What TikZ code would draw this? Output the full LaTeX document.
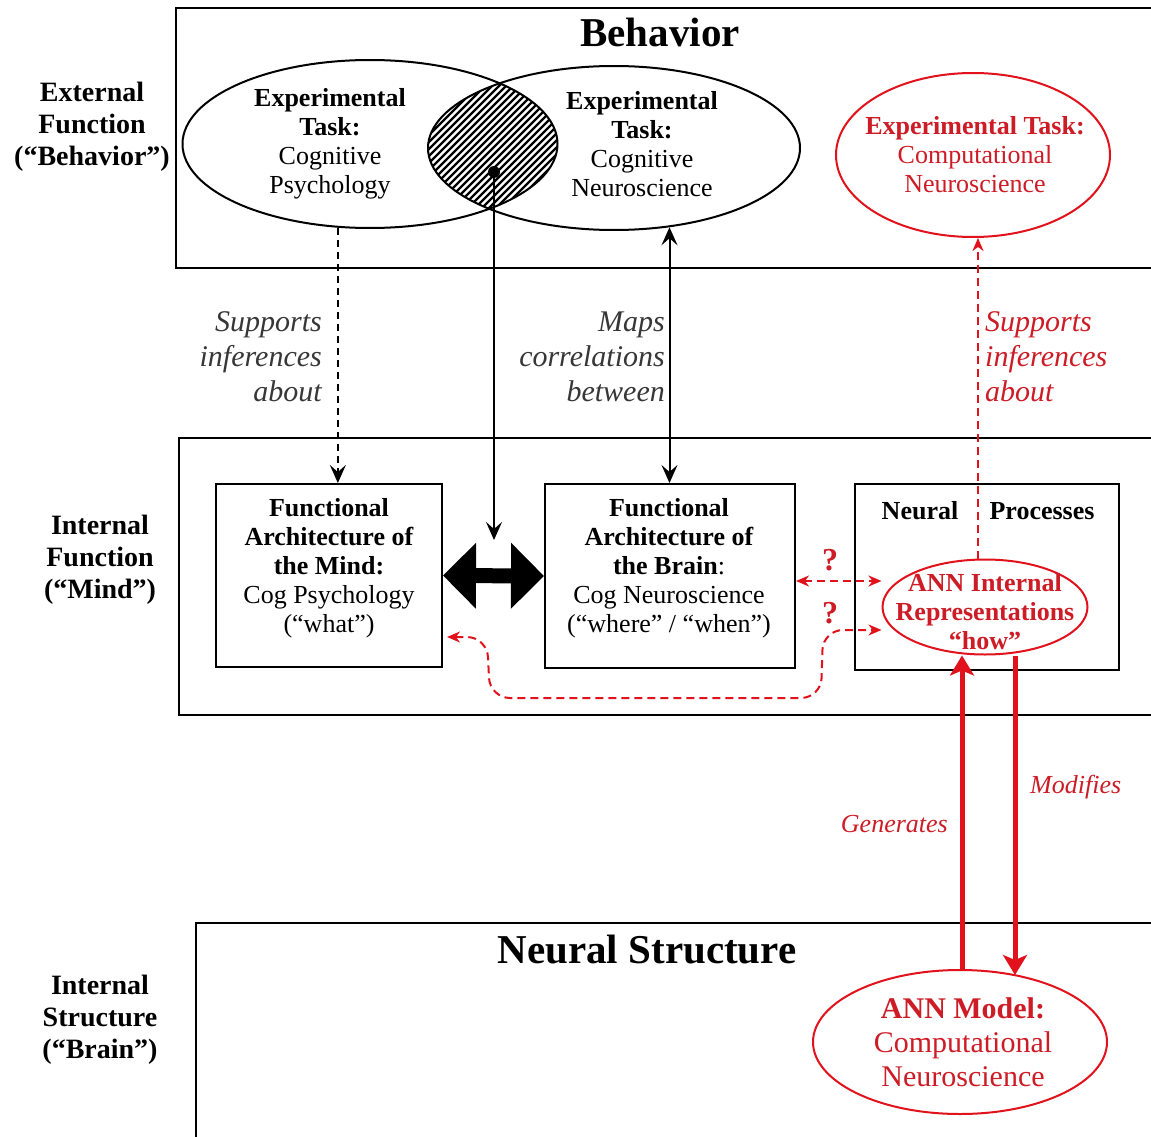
\documentclass[tikz,border=0pt]{standalone}
\usepackage{fontspec}
\setmainfont{Liberation Serif}
\usetikzlibrary{arrows.meta,shapes.geometric,calc}
\definecolor{annred}{RGB}{226,18,28}
\definecolor{redtxt}{RGB}{205,28,38}
\definecolor{lblgray}{RGB}{55,55,55}
\tikzset{
  btp/.tip={Stealth[length=18pt,width=16pt,inset=7pt]},
  rtp/.tip={Stealth[length=13pt,width=11pt,inset=4pt]},
  bigrtp/.tip={Stealth[length=20pt,width=24pt,inset=5pt]},
  hugetp/.tip={Triangle[length=33pt,width=64pt]},
}
\begin{document}
\begin{tikzpicture}[x=1pt,y=-1pt,
  frame/.style={line width=2pt},
  body/.style={font=\fontsize{26}{29}\selectfont, align=center, inner sep=0pt},
  bigbody/.style={font=\fontsize{30}{34}\selectfont, align=center, inner sep=0pt},
  side/.style={font=\fontsize{28}{32}\selectfont\bfseries, align=center, inner sep=0pt},
  title/.style={font=\fontsize{41}{44}\selectfont\bfseries, inner sep=0pt},
  lbl/.style={font=\fontsize{30}{35}\selectfont\itshape, text=lblgray, inner sep=0pt},
  rlbl/.style={font=\fontsize{30}{35}\selectfont\itshape, text=redtxt, inner sep=0pt},
  oval/.style={ellipse, draw, line width=2pt, inner sep=0pt},
  box/.style={rectangle, draw, line width=2pt, inner sep=0pt},
  blk/.style={line width=2pt},
  rdash/.style={annred, line width=2pt, dash pattern=on 8pt off 5pt},
  redbar/.style={annred, line width=5pt},
  qmark/.style={font=\fontsize{32}{34}\selectfont\bfseries, text=redtxt, inner sep=0pt},
]
\fill[white] (0,0) rectangle (1151,1137);
\useasboundingbox (0,0) rectangle (1151,1137);

% level frames
\draw[frame] (1151,8) -- (176,8) -- (176,268) -- (1151,268);
\draw[frame] (1151,438) -- (179,438) -- (179,715) -- (1151,715);
\draw[frame] (1151,923) -- (196,923) -- (196,1137);

% titles and side labels
\node[title] (tbeh) at (660,32) {Behavior};
\node[title] (tns) at (647,950) {Neural Structure};
\node[side] (sext) at (92,127) {External\\Function\\(“Behavior”)};
\node[side] (sint) at (100,560) {Internal\\Function\\(“Mind”)};
\node[side] (sstr) at (100,1020) {Internal\\Structure\\(“Brain”)};

% hatched overlap
\begin{scope}
  \clip (370,144) ellipse [x radius=187.5pt, y radius=84pt];
  \clip (614,148) ellipse [x radius=186pt, y radius=82pt];
  \foreach \i in {240,247,...,620} \draw[line width=2.2pt] (\i,240) -- ++(180,-180);
\end{scope}

% ellipses in behaviour level
\node[oval, minimum width=375pt, minimum height=168pt] (lell) at (370,144) {};
\node[oval, minimum width=372pt, minimum height=164pt] (rell) at (614,148) {};
\node[oval, draw=annred, minimum width=274pt, minimum height=164pt] (rtask) at (973,155) {};
\node[body] (tlell) at (330,144) {\textbf{Experimental}\\\textbf{Task:}\\Cognitive\\Psychology};
\node[body] (trell) at (642,144) {\textbf{Experimental}\\\textbf{Task:}\\Cognitive\\Neuroscience};
\node[body, text=redtxt] (trtask) at (975,155) {\textbf{Experimental Task:}\\Computational\\Neuroscience};

% mind level boxes
\node[box, minimum width=226pt, minimum height=183pt] (mind) at (329,575.5) {};
\node[box, minimum width=250pt, minimum height=184pt] (brain) at (670,576) {};
\node[box, minimum width=264pt, minimum height=186pt] (proc) at (987,577) {};
\node[body] (tmind) at (329,568) {\textbf{Functional}\\\textbf{Architecture of}\\\textbf{the Mind:}\\Cog Psychology\\(“what”)};
\node[body] (tbrain) at (669,568) {\textbf{Functional}\\\textbf{Architecture of}\\\textbf{the Brain}:\\Cog Neuroscience\\(“where” / “when”)};
\node[body, font=\fontsize{26}{29}\selectfont\bfseries] (tneural) at (920,511) {Neural};
\node[body, font=\fontsize{26}{29}\selectfont\bfseries] (tproc) at (1042,511) {Processes};
\node[oval, draw=annred, minimum width=205pt, minimum height=95pt] (aint) at (985,607) {};
\node[body, text=redtxt, font=\fontsize{26}{29}\selectfont\bfseries] (taint) at (985,612) {ANN Internal\\Representations\\“how”};
\node[qmark] (qa) at (830,560) {?};
\node[qmark] (qb) at (830,613) {?};

% structure level
\node[oval, draw=annred, minimum width=294pt, minimum height=144pt] (amodel) at (960,1042) {};
\node[bigbody, text=redtxt] (tamodel) at (963,1042) {\textbf{ANN Model:}\\Computational\\Neuroscience};

% helper coordinates
\coordinate (dotend) at (494,540);
\coordinate (q1) at (830,581);
\coordinate (c2) at (470,637);
\coordinate (c3) at (860,630);
\coordinate (rx) at (978,400);
\coordinate (gx) at (962,800);
\coordinate (mx) at (1015,800);

% black connectors
\draw[blk, dash pattern=on 7pt off 5pt, -btp] (lell.249) -- (lell.249 |- mind.north);
\draw[blk, btp-btp] (rell.305) -- (rell.305 |- brain.north);
\node[circle, fill, inner sep=0pt, minimum size=12pt] (dot) at (494,172) {};
\draw[blk, -btp] (dot.center) -- (dotend);
\draw[line width=15pt, hugetp-hugetp] (mind.east) -- (brain.west);

% labels on connectors
\node[lbl, align=right, anchor=east] (lsup) at (322,357) {Supports\\inferences\\about};
\node[lbl, align=right, anchor=east] (lmap) at (665,357) {Maps\\correlations\\between};
\node[rlbl, align=left, anchor=west] (rsup) at (985,357) {Supports\\inferences\\about};

% red connectors
\draw[rdash, -rtp] (aint.north -| rx) -- (rtask.south -| rx);
\draw[rdash, rtp-rtp] (brain.east |- q1) -- (aint.west |- q1);
\draw[rdash, rtp-rtp, rounded corners=20pt, shorten <=4pt] (mind.east |- c2) -- (487,637) -- (490,698) -- (821,698) -- (823,630) -- (aint.west |- c3);
\draw[redbar, -bigrtp] (amodel.north -| gx) -- (aint.south -| gx);
\draw[redbar, -bigrtp, shorten >=-6pt] (aint.south -| mx) -- (amodel.north -| mx);
\node[rlbl, font=\fontsize{26}{29}\selectfont\itshape, anchor=east] (lgen) at (948,824) {Generates};
\node[rlbl, font=\fontsize{26}{29}\selectfont\itshape, anchor=west] (lmod) at (1030,787) {Modifies};
\end{tikzpicture}
\end{document}
